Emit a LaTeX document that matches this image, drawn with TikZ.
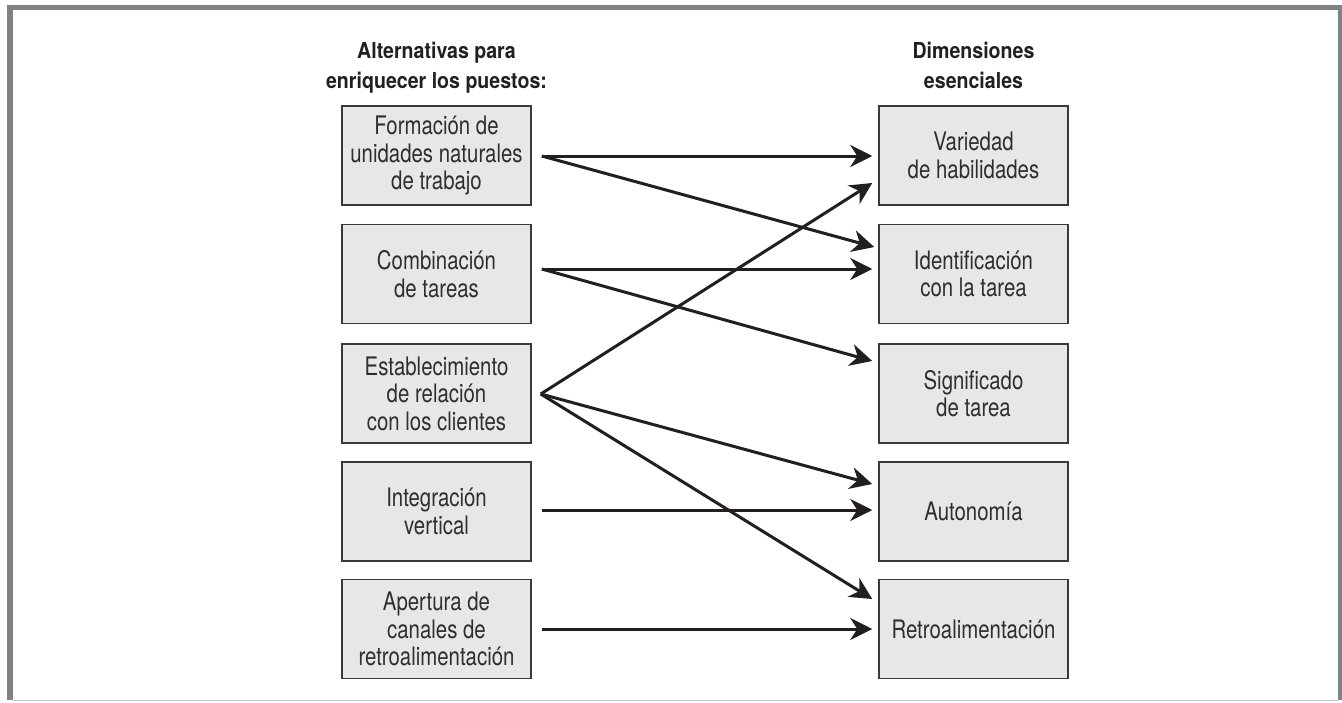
\documentclass[tikz,border=0pt]{standalone}
\usepackage{fontspec}
\setmainfont{TeX Gyre Heros}
\newfontfamily\boxfont[FakeStretch=0.80]{TeX Gyre Heros}
\newfontfamily\headfont[FakeStretch=0.89]{TeX Gyre Heros}
\usetikzlibrary{arrows.meta}
\definecolor{framegray}{HTML}{808285}
\definecolor{boxfill}{HTML}{E6E7E8}
\definecolor{boxline}{HTML}{3A3A3A}
\definecolor{inkblack}{HTML}{231F20}
\definecolor{boxtext}{HTML}{2E2E2E}
\tikzset{
  altbox/.style={draw=boxline, fill=boxfill, line width=1.5bp,
    minimum width=189bp, minimum height=99bp, inner sep=0pt,
    align=center, text=boxtext,
    font=\boxfont\fontsize{25.5bp}{27.5bp}\selectfont},
  headtext/.style={anchor=north, inner sep=0pt, align=center, text=inkblack,
    font=\headfont\bfseries\fontsize{22bp}{30bp}\selectfont},
  link/.style={draw=inkblack, line width=3bp,
    -{Stealth[length=22bp,width=22bp,inset=7bp]}}
}
\begin{document}
\begin{tikzpicture}[x=1bp,y=-1bp]
\useasboundingbox (0,0) rectangle (1342,702);
% frame
\fill[framegray] (7,5) rectangle (1342,10.5);
\fill[framegray] (7,5) rectangle (13,700);
\fill[framegray] (1337.5,5) rectangle (1342,700);
\draw[color=black!22, line width=1.5bp] (13,700.5) -- (1337.5,700.5);
% headers
\node[headtext] (hl) at (436.5,41.5) {Alternativas para\\enriquecer los puestos:};
\node[headtext] (hr) at (973.5,41.5) {Dimensiones\\esenciales};
% left boxes
\node[altbox] (L1) at (436.5,155.5) {Formación de\\unidades naturales\\de trabajo};
\node[altbox] (L2) at (436.5,274) {Combinación\\de tareas};
\node[altbox] (L3) at (436.5,393.5) {Establecimiento\\de relación\\con los clientes};
\node[altbox] (L4) at (436.5,511.5) {Integración\\vertical};
\node[altbox] (L5) at (436.5,629) {Apertura de\\canales de\\retroalimentación};
% right boxes
\node[altbox] (R1) at (973.5,155.5) {Variedad\\de habilidades};
\node[altbox] (R2) at (973.5,274) {Identificación\\con la tarea};
\node[altbox] (R3) at (973.5,393.5) {Significado\\de tarea};
\node[altbox] (R4) at (973.5,511.5) {Autonomía};
\node[altbox] (R5) at (973.5,629) {Retroalimentación};
% start points (yshift in canvas units: positive = up)
\coordinate (s1) at ([xshift=10bp,yshift=-0.5bp]L1.east);
\coordinate (s2) at ([xshift=10bp,yshift=5bp]L2.east);
\coordinate (s3) at ([xshift=9bp,yshift=-0.5bp]L3.east);
\coordinate (s4) at ([xshift=10bp,yshift=1.5bp]L4.east);
\coordinate (s5) at ([xshift=10bp]L5.east);
% end points
\coordinate (e11) at ([xshift=-6bp,yshift=-0.5bp]R1.west);
\coordinate (e31) at ([xshift=-6bp,yshift=-27.5bp]R1.west);
\coordinate (e12) at ([xshift=-4bp,yshift=27bp]R2.west);
\coordinate (e22) at ([xshift=-6bp,yshift=5bp]R2.west);
\coordinate (e23) at ([xshift=-6bp,yshift=32.5bp]R3.west);
\coordinate (e34) at ([xshift=-6bp,yshift=27.5bp]R4.west);
\coordinate (e44) at ([xshift=-6bp,yshift=1.5bp]R4.west);
\coordinate (e35) at ([xshift=-6bp,yshift=30bp]R5.west);
\coordinate (e55) at ([xshift=-6bp]R5.west);
% connectors
\draw[link] (s1) -- (e11);
\draw[link] (s1) -- (e12);
\draw[link] (s2) -- (e22);
\draw[link] (s2) -- (e23);
\draw[link] (s3) -- (e31);
\draw[link] (s3) -- (e34);
\draw[link] (s3) -- (e35);
\draw[link] (s4) -- (e44);
\draw[link] (s5) -- (e55);
\end{tikzpicture}
\end{document}
